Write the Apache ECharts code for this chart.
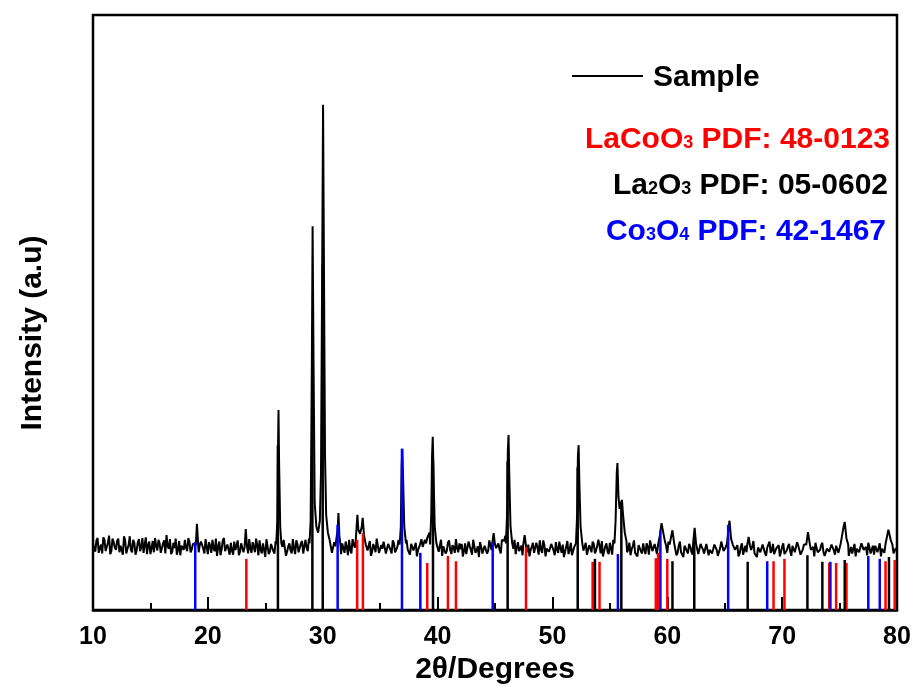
<!DOCTYPE html>
<html><head><meta charset="utf-8">
<script src="https://cdn.jsdelivr.net/npm/echarts/dist/echarts.min.js"></script>
<style>html,body{margin:0;padding:0;background:#fff}#c{width:917px;height:690px}</style>
</head><body><div id="c"></div>
<script>
// ---- data ----
const xMin = 10, xMax = 80, xInterval = 10;
// background of the sample pattern: even points 10.0, 10.2 ... 80.0
const sampleBase = [
112,98,121,104,95,118,106,125,99,114,
101,120,108,93,117,103,124,97,113,100,
119,105,96,122,109,94,116,121,100,112,
98,117,126,103,94,113,120,101,92,110,
118,99,114,102,108,120,97,115,103,119,
94,108,118,99,91,115,102,121,96,107,
113,93,101,117,98,110,90,104,119,96,
106,120,92,101,112,89,116,98,109,95,
104,114,97,118,91,107,100,119,94,110,
99,116,93,105,120,97,111,123,118,125,
130,122,118,108,96,114,99,110,94,104,
115,92,101,119,105,121,120,128,118,112,
102,91,111,97,118,93,103,114,96,108,
95,112,101,118,104,110,114,102,93,109,
99,90,106,116,108,112,118,120,112,103,
113,96,91,110,99,117,94,105,119,97,
102,90,112,96,107,93,116,100,89,106,
95,111,99,115,110,106,108,101,118,116,
120,118,112,103,94,114,100,92,111,97,
90,106,96,113,93,102,117,90,104,95,
109,92,101,115,96,89,107,94,113,99,
108,115,120,112,101,93,109,97,111,100,
110,95,90,107,98,113,93,106,116,115,
125,118,110,101,92,108,96,90,106,95,
101,112,93,108,96,110,104,108,112,103,
96,110,112,104,92,108,97,89,104,95,
107,93,112,103,91,106,95,111,92,102,
96,109,91,104,112,97,112,104,93,107,
98,90,106,93,108,100,92,107,95,89,
102,94,108,91,105,96,111,93,102,90,
106,94,100,111,91,105,96,108,93,102,
107,110,108,98,90,104,95,109,97,90,
103,96,109,93,102,95,110,106,97,91,
106,96,90,104,94,109,98,92,105,96,
93,107,99,90,104,111,97,110,100,94,
100
];
// background of the sample pattern: odd points 10.1, 10.3 ... 79.9
const sampleBaseOdd = [
103,117,96,110,122,99,113,94,120,105,
116,97,111,124,95,109,101,118,93,114,
99,121,110,94,115,104,97,108,118,96,
112,95,107,119,98,104,93,116,108,101,
105,121,97,111,112,98,110,117,95,106,
114,96,103,120,106,92,117,99,110,93,
100,115,108,92,112,97,118,95,103,114,
97,108,117,95,101,119,94,111,99,116,
110,93,106,115,98,112,95,103,117,97,
112,95,118,99,107,93,115,120,130,140,
120,110,104,118,97,107,115,98,112,96,
106,118,95,110,99,113,125,130,115,100,
116,98,105,120,96,109,115,95,111,101,
117,97,106,93,114,120,118,97,111,100,
113,101,96,109,118,121,130,115,99,108,
98,118,107,95,113,101,109,96,104,112,
111,99,94,115,101,118,96,107,114,95,
108,95,117,101,115,104,112,95,120,125,
114,106,97,118,105,99,108,116,98,110,
101,113,94,105,117,96,109,103,98,111,
100,114,96,104,110,98,116,101,92,106,
119,124,108,100,113,96,104,115,95,108,
103,116,99,112,94,104,118,97,112,120,
115,108,97,113,102,117,95,109,99,112,
94,106,117,99,111,94,105,115,120,108,
115,98,103,113,96,115,94,108,99,111,
98,115,100,94,111,102,97,109,101,95,
110,101,94,115,99,106,120,115,96,101,
109,95,112,101,97,115,101,116,94,105,
97,110,96,105,115,100,94,104,109,98,
112,97,106,99,108,97,114,101,95,110,
118,125,101,106,113,97,101,113,91,103,
98,110,100,108,96,112,115,100,108,99,
95,111,103,97,112,101,106,113,95,108,
108,97,112,103,96,115,108,115,95,104
];
// diffraction peaks of the sample: [2theta, intensity]
const samplePeaks = [
[[18.95,108],[19.05,145],[19.15,112]],
[[23.2,106],[23.3,136],[23.4,108]],
[[25.95,110],[26.05,150],[26.1,260],[26.15,336],[26.2,250],[26.3,140],[26.4,112]],
[[28.85,112],[28.95,150],[29.05,400],[29.12,645],[29.2,420],[29.3,180],[29.45,140],[29.6,130],[29.75,150],[29.85,230],[29.95,560],[30.03,849],[30.1,600],[30.2,260],[30.3,160],[30.45,130],[30.6,118]],
[[31.2,108],[31.3,135],[31.37,163],[31.45,125],[31.55,108]],
[[32.85,110],[32.95,140],[33.02,160],[33.1,135],[33.25,128],[33.4,140],[33.48,155],[33.6,125],[33.75,110]],
[[36.7,110],[36.8,140],[36.87,240],[36.93,271],[37.0,220],[37.1,140],[37.25,112]],
[[38.5,108],[38.6,119],[38.7,106]],
[[39.35,110],[39.45,160],[39.52,260],[39.58,291],[39.65,230],[39.75,140],[39.9,112]],
[[44.75,110],[44.88,129],[45.0,110]],
[[45.95,112],[46.05,160],[46.12,270],[46.18,294],[46.25,220],[46.35,140],[46.5,112]],
[[47.45,108],[47.58,126],[47.7,108]],
[[52.05,112],[52.15,160],[52.22,260],[52.28,277],[52.35,210],[52.45,140],[52.6,112]],
[[53.9,108],[54.0,118],[54.1,108]],
[[55.4,112],[55.5,150],[55.6,230],[55.66,247],[55.75,190],[55.85,170],[55.97,180],[56.05,185],[56.15,160],[56.3,130],[56.45,115]],
[[59.2,110],[59.35,125],[59.5,146],[59.65,130],[59.8,115]],
[[60.3,112],[60.45,134],[60.6,112]],
[[62.25,112],[62.38,138],[62.5,112]],
[[65.2,112],[65.35,140],[65.42,150],[65.55,120],[65.7,110]],
[[66.95,108],[67.08,123],[67.2,108]],
[[72.1,110],[72.25,131],[72.4,112]],
[[75.2,112],[75.35,140],[75.45,148],[75.6,120],[75.75,110]],
[[79.1,112],[79.25,135],[79.32,138],[79.45,118],[79.6,110]]
];
// reference patterns: [2theta, relative height]
const lacoo3Sticks = [[23.35,86],[33.0,118],[33.5,129],[39.1,79],[40.9,91],[41.6,82],[47.7,106],[53.5,81],[54.1,81],[59.0,87],[59.2,96],[60.0,86],[69.25,82],[70.2,86],[74.1,79],[74.7,79],[75.6,79],[79.0,82],[79.8,84]];
const la2o3Sticks = [[26.1,277],[29.1,408],[30.0,580],[39.6,250],[46.1,250],[52.2,240],[53.7,86],[56.0,175],[60.45,82],[62.35,123],[67.0,81],[72.2,92],[73.5,81],[75.45,84],[79.3,89]];
const co3o4Sticks = [[18.9,114],[31.3,143],[36.9,271],[38.5,96],[44.8,114],[55.7,94],[59.4,133],[65.3,143],[68.7,82],[74.2,81],[77.5,91],[78.5,86]];
const xName = '2θ/Degrees', yName = 'Intensity (a.u)';
const legendSample = 'Sample';

// ---- build sample series ----
let pts = [];
function inPeak(x) { return samplePeaks.some(p => x >= p[0][0] && x <= p[p.length-1][0]); }
sampleBase.forEach((v, i) => { const x = +(10.0 + i * 0.2).toFixed(2); if (!inPeak(x)) pts.push([x, v]); });
sampleBaseOdd.forEach((v, i) => { const x = +(10.1 + i * 0.2).toFixed(2); if (!inPeak(x)) pts.push([x, v]); });
samplePeaks.forEach(p => p.forEach(q => pts.push(q)));
pts.sort((a,b) => a[0]-b[0]);

const FONT = '"Liberation Sans", Arial, sans-serif';
function stickSeries(data, color) {
  return {
    type: 'custom', data: data, z: 5, clip: true,
    encode: { x: 0, y: 1 },
    renderItem: function (params, api) {
      const p0 = api.coord([api.value(0), 0]);
      const p1 = api.coord([api.value(0), api.value(1)]);
      return { type: 'line', shape: { x1: p0[0], y1: p0[1], x2: p1[0], y2: p1[1] },
        style: { stroke: color, lineWidth: 2.5 } };
    }
  };
}
function richStyle(color) {
  return {
    a: { font: 'bold 30px ' + FONT, fill: color, verticalAlign: 'bottom', lineHeight: 34 },
    s: { font: 'bold 18px ' + FONT, fill: color, verticalAlign: 'bottom', lineHeight: 34, padding: [0,0,3,0] }
  };
}

const chart = echarts.init(document.getElementById('c'), null, { renderer: 'canvas' });
chart.setOption({
  backgroundColor: '#fff',
  animation: false,
  grid: { left: 93, right: 20, top: 15, bottom: 80, show: true, borderColor: '#000', borderWidth: 2.5, backgroundColor: 'transparent' },
  xAxis: {
    type: 'value', min: xMin, max: xMax, interval: xInterval,
    name: xName, nameLocation: 'middle', nameGap: 42,
    nameTextStyle: { fontFamily: FONT, fontWeight: 'bold', fontSize: 30, color: '#000' },
    axisLine: { show: true, lineStyle: { color: '#000', width: 2.5 } },
    axisTick: { show: true, inside: true, length: 13, lineStyle: { color: '#000', width: 2 } },
    minorTick: { show: true, splitNumber: 2, length: 7, lineStyle: { color: '#000', width: 2 } },
    axisLabel: { fontFamily: FONT, fontWeight: 'bold', fontSize: 25, color: '#000', margin: 15 },
    splitLine: { show: false }
  },
  yAxis: {
    type: 'value', min: 0, max: 1000,
    axisLine: { show: false }, axisTick: { show: false }, axisLabel: { show: false },
    splitLine: { show: false }
  },
  series: [
    { type: 'line', data: pts, showSymbol: false, symbol: 'none', z: 3, sampling: null,
      lineStyle: { color: '#000', width: 2 } },
    stickSeries(lacoo3Sticks, '#ff0000'),
    stickSeries(la2o3Sticks, '#000000'),
    stickSeries(co3o4Sticks, '#0000ff')
  ],
  graphic: [
    { type: 'text', x: 33, y: 333, rotation: Math.PI / 2,
      style: { text: yName, font: 'bold 30px ' + FONT, fill: '#000', align: 'center', verticalAlign: 'middle' } },
    { type: 'line', shape: { x1: 572, y1: 76, x2: 643, y2: 76 }, style: { stroke: '#000', lineWidth: 2 } },
    { type: 'text', left: 653, top: 63, style: { text: legendSample, font: 'bold 30px ' + FONT, fill: '#000' } },
    { type: 'text', right: 27, top: 125, style: { text: '{a|LaCoO}{s|3}{a| PDF: 48-0123}', fill: '#ff0000', align: 'right', rich: richStyle('#ff0000') } },
    { type: 'text', right: 29, top: 171, style: { text: '{a|La}{s|2}{a|O}{s|3}{a| PDF: 05-0602}', fill: '#000', align: 'right', rich: richStyle('#000') } },
    { type: 'text', right: 31, top: 217, style: { text: '{a|Co}{s|3}{a|O}{s|4}{a| PDF: 42-1467}', fill: '#0000ff', align: 'right', rich: richStyle('#0000ff') } }
  ]
});
</script>
</body></html>
